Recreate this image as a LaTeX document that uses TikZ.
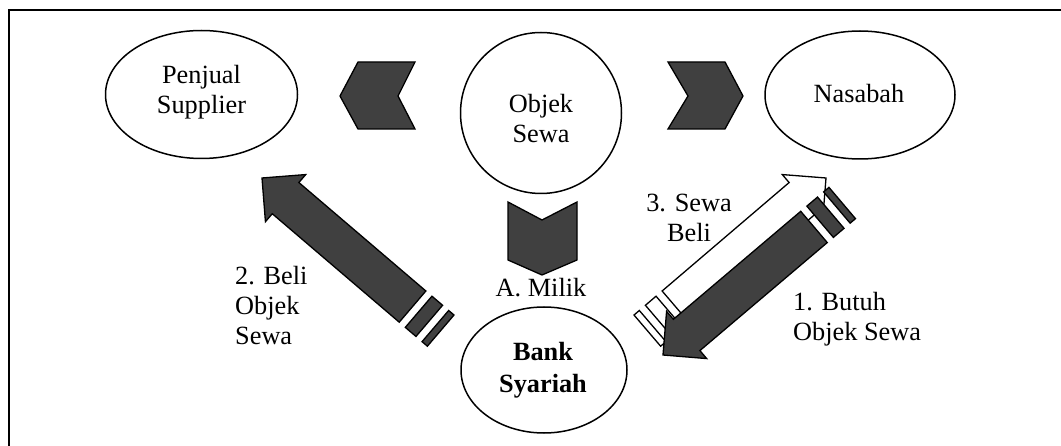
\documentclass[tikz,border=0pt]{standalone}
\usepackage{fontspec}
\setmainfont{Liberation Serif}
\usetikzlibrary{shapes.geometric}

\definecolor{arrowdark}{RGB}{64,64,64}

% Striped block arrow: #1 style, #2 coordinate of the tip, #3 heading in degrees
\newcommand{\stripedarrow}[3]{%
  \begin{scope}[shift={(#2)}, rotate=#3]
    \path[#1] (0,0) -- (-31,31) -- (-31,20.5) -- (-198,20.5) -- (-198,-20.5)
      -- (-31,-20.5) -- (-31,-31) -- cycle;
    \path[#1] (-206,-20.5) rectangle (-220,20.5);
    \path[#1] (-228,-20.5) rectangle (-235,20.5);
  \end{scope}}

\tikzset{
  txt/.style={font=\fontsize{26.3}{30.2}\selectfont, inner sep=0pt},
  party/.style={draw, line width=1.5pt, fill=white, inner sep=0pt},
  chevron/.style={draw, line width=1.3pt, fill=arrowdark, line join=miter},
  darkarrow/.style={draw, line width=1.3pt, fill=arrowdark},
  lightarrow/.style={draw, line width=1.3pt, fill=white},
}

\begin{document}
\begin{tikzpicture}[x=1pt, y=-1pt]
  \useasboundingbox (0,0) rectangle (1061,446);

  % frame
  \draw[line width=1.5pt] (9,446) -- (9,10) -- (1061,10);

  % parties
  \node[party, ellipse, minimum width=192pt, minimum height=128pt] (sup) at (201.5,94.5) {};
  \node[party, circle, minimum size=161pt] (obj) at (541,113) {};
  \node[party, ellipse, minimum width=190pt, minimum height=128pt] (nas) at (860,95) {};
  \node[party, ellipse, minimum width=166pt, minimum height=126pt] (bank) at (544,370) {};

  \node[txt, anchor=north, align=center] (suptxt) at (201.5,65) {Penjual\\Supplier};
  \node[txt, anchor=north, align=center] (objtxt) at (541,94) {Objek\\Sewa};
  \node[txt, anchor=north, align=center] (nastxt) at (859,84) {Nasabah};
  \node[txt, anchor=north, align=center, font=\fontsize{26.3}{32}\selectfont\bfseries] (banktxt) at (543,342) {Bank\\Syariah};

  % chevrons leaving the leased object
  \path[chevron] (358,62) -- (415,62) -- (398,96) -- (415,129) -- (358,129) -- (340,96) -- cycle;
  \path[chevron] (668,62) -- (725,62) -- (743,96) -- (725,129) -- (668,129) -- (688,96) -- cycle;
  \path[chevron] (508,202) -- (542,220) -- (577,202) -- (577,260) -- (542,275) -- (508,260) -- cycle;

  % striped arrows
  \coordinate (beliTip)  at (262,178);
  \coordinate (sewaTip)  at (826,178);
  \coordinate (butuhTip) at (663,355);

  \stripedarrow{darkarrow}{beliTip}{139.5}
  \stripedarrow{lightarrow}{sewaTip}{40.5}
  \stripedarrow{darkarrow}{butuhTip}{220.3}

  % labels
  \node[txt, anchor=base] (milik) at (541,297) {A. Milik};
  \node[txt, anchor=north west, align=left] (lblbeli) at (235,266) {2. Beli\\Objek\\Sewa};
  \node[txt, anchor=north, align=center] (lblsewa) at (689,194) {3. Sewa\\Beli};
  \node[txt, anchor=north west, align=left] (lblbutuh) at (793,292) {1. Butuh\\Objek Sewa};
\end{tikzpicture}
\end{document}
